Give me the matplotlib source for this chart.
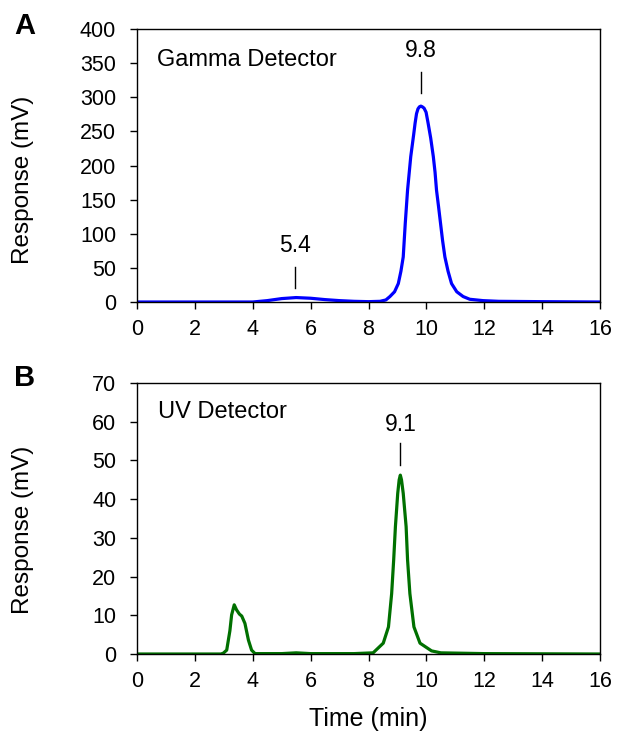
import matplotlib
matplotlib.use("Agg")
import matplotlib.pyplot as plt

plt.rcParams['font.family'] = ['Liberation Sans', 'DejaVu Sans']

# Panel A: gamma detector
time_a = [0, 2.0, 4.0, 4.5, 5.0, 5.5, 6.0, 6.5, 7.0, 7.5, 8.0, 8.4, 8.6, 8.74, 8.9, 9.03, 9.12,
          9.2, 9.27, 9.35, 9.46, 9.56, 9.61, 9.66, 9.71, 9.76, 9.81, 9.86, 9.92, 9.99, 10.06,
          10.15, 10.24, 10.3, 10.35, 10.42, 10.49, 10.56, 10.64, 10.75, 10.87, 11.05, 11.27,
          11.5, 11.96, 12.5, 14.0, 16.0]
resp_a = [0, 0, 0, 2, 5, 6.5, 5.5, 3.5, 2, 1, 0.5, 1, 3, 8, 15, 27, 45,
          66, 115, 164, 213, 245, 262, 276, 283, 286, 287, 286, 284, 278, 262,
          240, 213, 190, 164, 140, 115, 90, 66, 45, 27, 15, 8,
          4, 2, 1, 0.5, 0]

# Panel B: UV detector
time_b = [0, 2.9, 2.98, 3.1, 3.21, 3.27, 3.36, 3.44, 3.54, 3.62, 3.73, 3.85, 3.96, 4.08,
          5.0, 5.5, 6.0, 7.5, 8.16, 8.51, 8.69, 8.80, 8.87, 8.93, 9.01, 9.06, 9.10, 9.14,
          9.20, 9.30, 9.35, 9.43, 9.57, 9.78, 10.18, 10.5, 12.0, 16.0]
resp_b = [0, 0, 0.2, 1.0, 6.0, 10.1, 12.7, 11.4, 10.3, 9.8, 7.9, 3.6, 1.0, 0.1,
          0.1, 0.3, 0.1, 0.1, 0.3, 2.8, 7.0, 15.6, 24.3, 32.9, 41.5, 45.0, 46.2, 45.0,
          41.5, 32.9, 24.3, 15.6, 7.0, 2.8, 0.8, 0.3, 0.1, 0]

x_ticks = [0, 2, 4, 6, 8, 10, 12, 14, 16]
y_ticks_a = [0, 50, 100, 150, 200, 250, 300, 350, 400]
y_ticks_b = [0, 10, 20, 30, 40, 50, 60, 70]

fig = plt.figure(figsize=(6.19, 7.42), dpi=100)
W, H = 619, 742

def axes_px(left, top, right, bottom):
    return fig.add_axes([left / W, 1 - bottom / H, (right - left) / W, (bottom - top) / H])

axA = axes_px(137, 29, 600, 302)
axB = axes_px(137, 383, 600, 654)

for ax, t, r, c, yt, ly in [(axA, time_a, resp_a, '#0000ff', y_ticks_a, 0.447),
                             (axB, time_b, resp_b, '#007000', y_ticks_b, 0.458)]:
    ax.plot(t, r, color=c, lw=2.3, solid_joinstyle='round')
    ax.set_xlim(0, 16)
    ax.set_ylim(yt[0], yt[-1])
    ax.set_xticks(x_ticks)
    ax.set_yticks(yt)
    ax.tick_params(axis='both', direction='out', length=5, width=1, labelsize=15.5)
    ax.tick_params(axis='y', pad=10)
    ax.tick_params(axis='x', pad=7)
    for s in ax.spines.values():
        s.set_linewidth(1)
    ax.set_ylabel('Response (mV)', fontsize=17.5)
    ax.yaxis.set_label_coords(-0.222, ly)

axB.set_xlabel('Time (min)', fontsize=18, labelpad=11)

axA.text(0.69, 354, 'Gamma Detector', fontsize=17, va='center', ha='left')
axB.text(0.72, 62.5, 'UV Detector', fontsize=17, va='center', ha='left')

# peak annotations
axA.text(9.81, 369, '9.8', fontsize=16.5, ha='center', va='center')
axA.plot([9.81, 9.81], [306, 337], color='black', lw=1)
axA.text(5.46, 83, '5.4', fontsize=16.5, ha='center', va='center')
axA.plot([5.46, 5.46], [20, 52], color='black', lw=1)
axB.text(9.10, 59.2, '9.1', fontsize=16.5, ha='center', va='center')
axB.plot([9.10, 9.10], [48.8, 54.5], color='black', lw=1)

fig.text(25 / W, 1 - 26 / H, 'A', fontsize=21, fontweight='bold', ha='center', va='center')
fig.text(25 / W, 1 - 378 / H, 'B', fontsize=21, fontweight='bold', ha='center', va='center')

fig.savefig('out.png', dpi=100)
